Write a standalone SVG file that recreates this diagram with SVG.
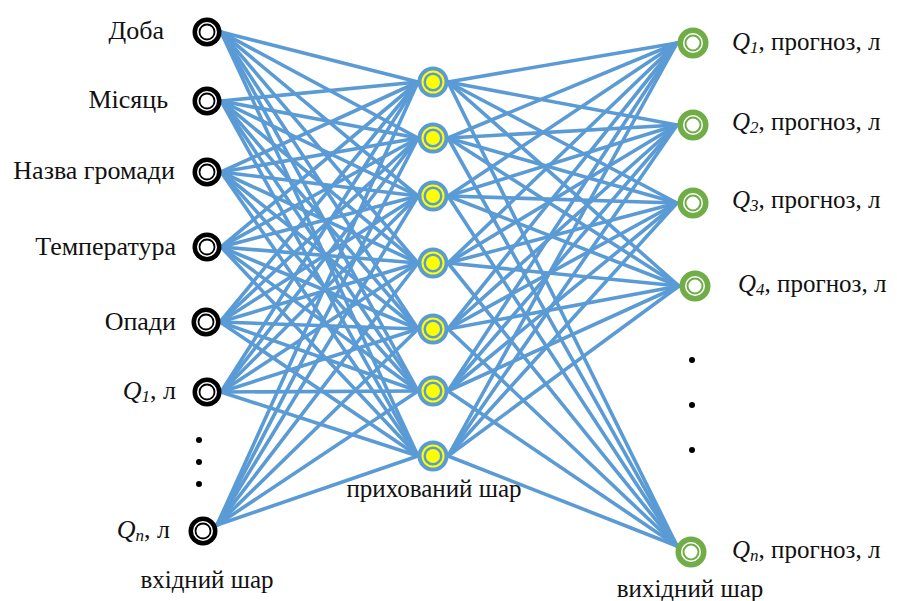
<svg xmlns="http://www.w3.org/2000/svg" width="897" height="601" viewBox="0 0 897 601">
<style>
text{font-family:"Liberation Serif","Times New Roman",serif;font-size:25px;fill:#111}
.L{font-size:26px}
.i{font-style:italic}
.s{font-size:17px;font-style:italic}
.e{text-anchor:end}
.m{text-anchor:middle}
#edges line{stroke:#5B9BD5;stroke-width:3.6;stroke-linecap:round}
</style>
<defs>
<g id="inN"><circle r="14.5" fill="#000"/><circle r="10" fill="#fff"/><circle r="7.5" fill="#fff" stroke="#000" stroke-width="1.8"/></g>
<g id="hidN"><circle r="15.5" fill="#5B9BD5"/><circle r="10.5" fill="none" stroke="#FFFF00" stroke-width="2"/><circle r="7" fill="#FFFF00"/></g>
<g id="outN"><circle r="15.5" fill="#70AD47"/><circle r="10" fill="#fff"/><circle r="7.5" fill="#fff" stroke="#70AD47" stroke-width="2"/></g>
</defs>
<rect width="897" height="601" fill="#fff"/>
<g id="edges">
<line x1="221" y1="32" x2="418" y2="82"/><line x1="221" y1="32" x2="418" y2="138"/><line x1="221" y1="32" x2="418" y2="196"/><line x1="221" y1="32" x2="418" y2="263"/><line x1="221" y1="32" x2="418" y2="329"/><line x1="221" y1="32" x2="418" y2="391"/><line x1="221" y1="32" x2="418" y2="456"/>
<line x1="221" y1="101" x2="418" y2="82"/><line x1="221" y1="101" x2="418" y2="138"/><line x1="221" y1="101" x2="418" y2="196"/><line x1="221" y1="101" x2="418" y2="263"/><line x1="221" y1="101" x2="418" y2="329"/><line x1="221" y1="101" x2="418" y2="391"/><line x1="221" y1="101" x2="418" y2="456"/>
<line x1="221" y1="172" x2="418" y2="82"/><line x1="221" y1="172" x2="418" y2="138"/><line x1="221" y1="172" x2="418" y2="196"/><line x1="221" y1="172" x2="418" y2="263"/><line x1="221" y1="172" x2="418" y2="329"/><line x1="221" y1="172" x2="418" y2="391"/><line x1="221" y1="172" x2="418" y2="456"/>
<line x1="221" y1="247" x2="418" y2="82"/><line x1="221" y1="247" x2="418" y2="138"/><line x1="221" y1="247" x2="418" y2="196"/><line x1="221" y1="247" x2="418" y2="263"/><line x1="221" y1="247" x2="418" y2="329"/><line x1="221" y1="247" x2="418" y2="391"/><line x1="221" y1="247" x2="418" y2="456"/>
<line x1="220" y1="322" x2="418" y2="82"/><line x1="220" y1="322" x2="418" y2="138"/><line x1="220" y1="322" x2="418" y2="196"/><line x1="220" y1="322" x2="418" y2="263"/><line x1="220" y1="322" x2="418" y2="329"/><line x1="220" y1="322" x2="418" y2="391"/><line x1="220" y1="322" x2="418" y2="456"/>
<line x1="221" y1="392" x2="418" y2="82"/><line x1="221" y1="392" x2="418" y2="138"/><line x1="221" y1="392" x2="418" y2="196"/><line x1="221" y1="392" x2="418" y2="263"/><line x1="221" y1="392" x2="418" y2="329"/><line x1="221" y1="392" x2="418" y2="391"/><line x1="221" y1="392" x2="418" y2="456"/>
<line x1="217" y1="525" x2="418" y2="82"/><line x1="217" y1="525" x2="418" y2="138"/><line x1="217" y1="525" x2="418" y2="196"/><line x1="217" y1="525" x2="418" y2="263"/><line x1="217" y1="525" x2="418" y2="329"/><line x1="217" y1="525" x2="418" y2="391"/><line x1="217" y1="525" x2="418" y2="456"/>
<line x1="448" y1="82" x2="677" y2="43"/><line x1="448" y1="82" x2="677" y2="125"/><line x1="448" y1="82" x2="677" y2="203"/><line x1="448" y1="82" x2="679" y2="286"/><line x1="448" y1="82" x2="677" y2="546"/>
<line x1="448" y1="138" x2="677" y2="43"/><line x1="448" y1="138" x2="677" y2="125"/><line x1="448" y1="138" x2="677" y2="203"/><line x1="448" y1="138" x2="679" y2="286"/><line x1="448" y1="138" x2="677" y2="546"/>
<line x1="448" y1="196" x2="677" y2="43"/><line x1="448" y1="196" x2="677" y2="125"/><line x1="448" y1="196" x2="677" y2="203"/><line x1="448" y1="196" x2="679" y2="286"/><line x1="448" y1="196" x2="677" y2="546"/>
<line x1="448" y1="263" x2="677" y2="43"/><line x1="448" y1="263" x2="677" y2="125"/><line x1="448" y1="263" x2="677" y2="203"/><line x1="448" y1="263" x2="679" y2="286"/><line x1="448" y1="263" x2="677" y2="546"/>
<line x1="448" y1="329" x2="677" y2="43"/><line x1="448" y1="329" x2="677" y2="125"/><line x1="448" y1="329" x2="677" y2="203"/><line x1="448" y1="329" x2="679" y2="286"/><line x1="448" y1="329" x2="677" y2="546"/>
<line x1="448" y1="391" x2="677" y2="43"/><line x1="448" y1="391" x2="677" y2="125"/><line x1="448" y1="391" x2="677" y2="203"/><line x1="448" y1="391" x2="679" y2="286"/><line x1="448" y1="391" x2="677" y2="546"/>
<line x1="448" y1="456" x2="677" y2="43"/><line x1="448" y1="456" x2="677" y2="125"/><line x1="448" y1="456" x2="677" y2="203"/><line x1="448" y1="456" x2="679" y2="286"/><line x1="448" y1="456" x2="677" y2="546"/>
</g>
<g id="in1"><use href="#inN" x="207" y="32"/><text class="e L" x="164" y="39">Доба</text></g>
<g id="in2"><use href="#inN" x="207" y="101"/><text class="e L" x="168" y="108">Місяць</text></g>
<g id="in3"><use href="#inN" x="207" y="172"/><text class="e L" x="175" y="179">Назва громади</text></g>
<g id="in4"><use href="#inN" x="207" y="247"/><text class="e L" x="176" y="255">Температура</text></g>
<g id="in5"><use href="#inN" x="206" y="322"/><text class="e L" x="176" y="330">Опади</text></g>
<g id="in6"><use href="#inN" x="207" y="392"/><text class="e L" x="176" y="399"><tspan class="i">Q</tspan><tspan class="s" dy="3">1</tspan><tspan dy="-3">, л</tspan></text></g>
<g id="inDots"><circle cx="199" cy="440" r="3" fill="#000"/><circle cx="199" cy="462" r="3" fill="#000"/><circle cx="199" cy="484" r="3" fill="#000"/></g>
<g id="in7"><use href="#inN" x="203" y="531"/><text class="e L" x="170" y="538"><tspan class="i">Q</tspan><tspan class="s" dy="3">n</tspan><tspan dy="-3">, л</tspan></text></g>
<text class="m" x="207" y="588">вхідний шар</text>
<g id="h1"><use href="#hidN" x="433" y="82"/></g>
<g id="h2"><use href="#hidN" x="433" y="138"/></g>
<g id="h3"><use href="#hidN" x="433" y="196"/></g>
<g id="h4"><use href="#hidN" x="433" y="263"/></g>
<g id="h5"><use href="#hidN" x="433" y="329"/></g>
<g id="h6"><use href="#hidN" x="433" y="391"/></g>
<g id="h7"><use href="#hidN" x="433" y="456"/></g>
<text class="m" x="434" y="497">прихований шар</text>
<g id="o1"><use href="#outN" x="693" y="43"/><text x="732" y="50"><tspan class="i">Q</tspan><tspan class="s" dy="3">1</tspan><tspan dy="-3">, прогноз, л</tspan></text></g>
<g id="o2"><use href="#outN" x="693" y="125"/><text x="732" y="130"><tspan class="i">Q</tspan><tspan class="s" dy="3">2</tspan><tspan dy="-3">, прогноз, л</tspan></text></g>
<g id="o3"><use href="#outN" x="693" y="203"/><text x="732" y="208"><tspan class="i">Q</tspan><tspan class="s" dy="3">3</tspan><tspan dy="-3">, прогноз, л</tspan></text></g>
<g id="o4"><use href="#outN" x="695" y="286"/><text x="738" y="292"><tspan class="i">Q</tspan><tspan class="s" dy="3">4</tspan><tspan dy="-3">, прогноз, л</tspan></text></g>
<g id="outDots"><circle cx="692" cy="360" r="3" fill="#000"/><circle cx="692" cy="405" r="3" fill="#000"/><circle cx="692" cy="450" r="3" fill="#000"/></g>
<g id="o5"><use href="#outN" x="691" y="552"/><text x="732" y="558"><tspan class="i">Q</tspan><tspan class="s" dy="3">n</tspan><tspan dy="-3">, прогноз, л</tspan></text></g>
<text class="m" x="690" y="597">вихідний шар</text>
</svg>
